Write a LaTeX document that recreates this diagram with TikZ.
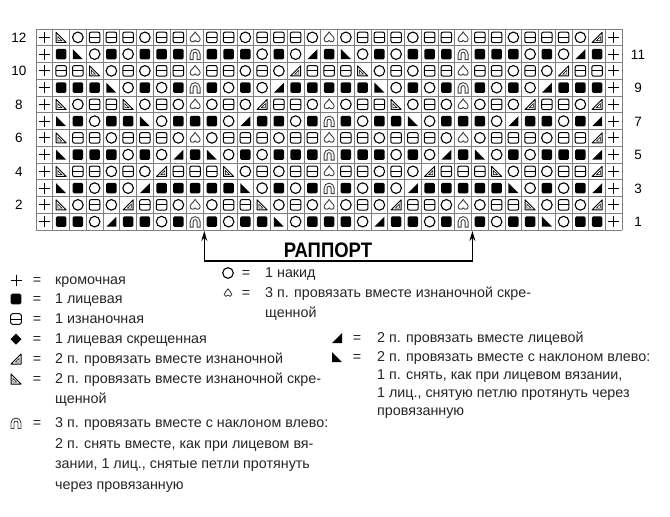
\documentclass[tikz,border=0pt]{standalone}
\usepackage{fontspec}
\setmainfont{Liberation Sans}
\newfontfamily\rapfont[FakeStretch=0.88]{Liberation Sans}
\usetikzlibrary{arrows.meta}

\newcommand\legsize{\fontsize{14.3}{17}\selectfont}

\tikzset{
  cellline/.style={draw=black!50, line width=0.7pt},
  numlab/.style={inner sep=0pt, font=\fontsize{13.5}{15}\selectfont},
  leg/.style={anchor=base west, inner sep=0pt, text=black!85, font=\legsize},
  eq/.style={anchor=base, inner sep=0pt, text=black!85, font=\legsize},
  % knitting symbols, one per stitch
  pics/e/.style={code={\draw[line width=1pt] (-5.5,0) -- (5.5,0) (0,-5.5) -- (0,5.5);}},
  pics/k/.style={code={\fill[rounded corners=1.5pt] (-5.3,-5.3) rectangle (5.3,5.3);}},
  pics/p/.style={code={
    \draw[line width=1pt, rounded corners=2pt] (-5.3,-5.3) rectangle (5.3,5.3);
    \draw[line width=1pt] (-5.3,0) -- (5.3,0);}},
  pics/o/.style={code={\draw[line width=1.1pt] (0,0) circle (5.3);}},
  pics/d/.style={code={\fill (0,-5.5) -- (5.5,0) -- (0,5.5) -- (-5.5,0) -- cycle;}},
  pics/r/.style={code={\fill (5,5) -- (-5,5) -- (5,-5) -- cycle;}},
  pics/l/.style={code={\fill (-5,5) -- (5,5) -- (-5,-5) -- cycle;}},
  pics/a/.style={code={
    \draw[line width=1pt, line join=round] (5,5) -- (-5,5) -- (5,-5) -- cycle;
    \draw[line width=0.5pt] (3.2,3.2) -- (-0.8,3.2) -- (3.2,-0.8) -- cycle;}},
  pics/b/.style={code={
    \draw[line width=1pt, line join=round] (-5,5) -- (5,5) -- (-5,-5) -- cycle;
    \draw[line width=0.5pt] (-3.2,3.2) -- (0.8,3.2) -- (-3.2,-0.8) -- cycle;}},
  pics/s/.style={code={
    \draw[line width=0.9pt, black!75] (0,-5.5) .. controls (-1,-3) and (-5,-1) .. (-5,1.8)
      .. controls (-5,4.5) and (-1.5,5.5) .. (0,3) .. controls (1.5,5.5) and (5,4.5) .. (5,1.8)
      .. controls (5,-1) and (1,-3) .. cycle;}},
  pics/h/.style={code={
    \draw[line width=0.9pt, black!75] (-5,5.5) -- (-5,0) arc[start angle=180, end angle=360, radius=5]
      -- (5,5.5) -- (2,5.5) -- (2,0) arc[start angle=0, end angle=-180, radius=2] -- (-2,5.5) -- cycle;}}
}

\begin{document}
\begin{tikzpicture}[x=1pt, y=-1pt]
  \useasboundingbox (0,0) rectangle (670,517);
  \fill[white] (0,0) rectangle (670,517);

  % chart, row 12 at the top
  \foreach \row [count=\r] in {
    {e,b,o,p,p,p,o,p,p,s,p,p,o,p,p,p,o,s,o,p,p,p,o,p,p,s,p,p,o,p,p,p,o,a,e},
    {e,k,l,o,k,o,k,k,k,h,k,k,k,o,k,o,r,k,l,o,k,o,k,k,k,h,k,k,k,o,k,o,r,k,e},
    {e,p,p,b,o,p,o,p,p,s,p,p,o,p,o,a,p,p,p,b,o,p,o,p,p,s,p,p,o,p,o,a,p,p,e},
    {e,k,k,k,l,o,k,o,k,h,k,o,k,o,r,k,k,k,k,k,l,o,k,o,k,h,k,o,k,o,r,k,k,k,e},
    {e,b,o,p,p,b,o,p,o,s,o,p,o,a,p,p,o,s,o,p,p,b,o,p,o,s,o,p,o,a,p,p,o,a,e},
    {e,l,k,o,k,k,l,o,k,k,k,o,r,k,k,o,k,h,k,o,k,k,l,o,k,k,k,o,r,k,k,o,k,r,e},
    {e,b,p,p,o,p,p,p,o,s,o,p,p,p,o,p,p,s,p,p,o,p,p,p,o,s,o,p,p,p,o,p,p,a,e},
    {e,l,k,k,k,o,k,o,r,k,l,o,k,o,k,k,k,h,k,k,k,o,k,o,r,k,l,o,k,o,k,k,k,r,e},
    {e,b,p,p,o,p,o,a,p,p,p,b,o,p,o,p,p,s,p,p,o,p,o,a,p,p,p,b,o,p,o,p,p,a,e},
    {e,l,k,o,k,o,r,k,k,k,k,k,l,o,k,o,k,h,k,o,k,o,r,k,k,k,k,k,l,o,k,o,k,r,e},
    {e,b,o,p,o,a,p,p,o,s,o,p,p,b,o,p,o,s,o,p,o,a,p,p,o,s,o,p,p,b,o,p,o,a,e},
    {e,k,k,o,r,k,k,o,k,h,k,o,k,k,l,o,k,k,k,o,r,k,k,o,k,h,k,o,k,k,l,o,k,k,e}}{
    \foreach \s [count=\c from 0] in \row
      \pic at ({44.375+16.75*\c}, {20.625+16.75*\r}) {\s};
  }
  \foreach \i in {0,...,35}
    \draw[cellline] ({36+16.75*\i},29) -- ++(0,201);
  \foreach \j in {0,...,12}
    \draw[cellline] (36,{29+16.75*\j}) -- ++(586.25,0);

  % row numbers
  \foreach \n [count=\j] in {12,10,8,6,4,2}
    \node[numlab] (row\n) at (19,{4.125+33.5*\j}) {\n};
  \foreach \n [count=\j] in {11,9,7,5,3,1}
    \node[numlab] (row\n) at (638,{20.875+33.5*\j}) {\n};

  % repeat
  \coordinate (repL) at (204.3,231);
  \coordinate (repR) at (472.4,231);
  \draw[line width=1.4pt, {Stealth[length=10pt,width=6pt]}-{Stealth[length=10pt,width=6pt]}]
    (repL) -- ++(0,30) -| (repR);
  \node[font=\rapfont\bfseries\fontsize{21}{23}\selectfont, inner sep=0pt] (rapport) at (328,250) {РАППОРТ};

  % key, left column
  \pic at (16,280) {e};
  \node[eq] (eq1) at (37,284.5) {=};
  \node[leg] (t1) at (55,284.5) {кромочная};
  \pic at (16,299) {k};
  \node[eq] (eq2) at (37,303.5) {=};
  \node[leg] (t2) at (55,303.5) {1 лицевая};
  \pic at (16,319) {p};
  \node[eq] (eq3) at (37,323.5) {=};
  \node[leg] (t3) at (55,323.5) {1 изнаночная};
  \pic at (16,339) {d};
  \node[eq] (eq4) at (37,343.5) {=};
  \node[leg] (t4) at (55,343.5) {1 лицевая скрещенная};
  \pic at (16,359) {a};
  \node[eq] (eq5) at (37,363.5) {=};
  \node[leg] (t5) at (55,363.5) {2 п. провязать вместе изнаночной};
  \pic at (16,379) {b};
  \node[eq] (eq6) at (37,383.5) {=};
  \node[leg] (t6) at (55,383.5) {2 п. провязать вместе изнаночной скре-};
  \node[leg] (t6b) at (55,403) {щенной};
  \pic at (16,423) {h};
  \node[eq] (eq7) at (37,427.5) {=};
  \node[leg] (t7) at (55,427.5) {3 п. провязать вместе с наклоном влево:};
  \node[leg] (t7b) at (55,448) {2 п. снять вместе, как при лицевом вя-};
  \node[leg] (t7c) at (55,468.5) {зании, 1 лиц., снятые петли протянуть};
  \node[leg] (t7d) at (55,489) {через провязанную};

  % key, middle column
  \pic at (228,273) {o};
  \node[eq] (eq8) at (246,277.5) {=};
  \node[leg] (t8) at (265,277.5) {1 накид};
  \pic[scale=0.75] at (228,293) {s};
  \node[eq] (eq9) at (246,297.5) {=};
  \node[leg] (t9) at (265,297.5) {3 п. провязать вместе изнаночной скре-};
  \node[leg] (t9b) at (265,317.5) {щенной};

  % key, right column
  \pic at (337,338) {r};
  \node[eq] (eq10) at (357,342.5) {=};
  \node[leg] (t10) at (377,342.5) {2 п. провязать вместе лицевой};
  \pic at (337,357) {l};
  \node[eq] (eq11) at (357,361.5) {=};
  \node[leg] (t11) at (377,361.5) {2 п. провязать вместе с наклоном влево:};
  \node[leg] (t11b) at (377,379.5) {1 п. снять, как при лицевом вязании,};
  \node[leg] (t11c) at (377,397.5) {1 лиц., снятую петлю протянуть через};
  \node[leg] (t11d) at (377,415.5) {провязанную};
\end{tikzpicture}
\end{document}
